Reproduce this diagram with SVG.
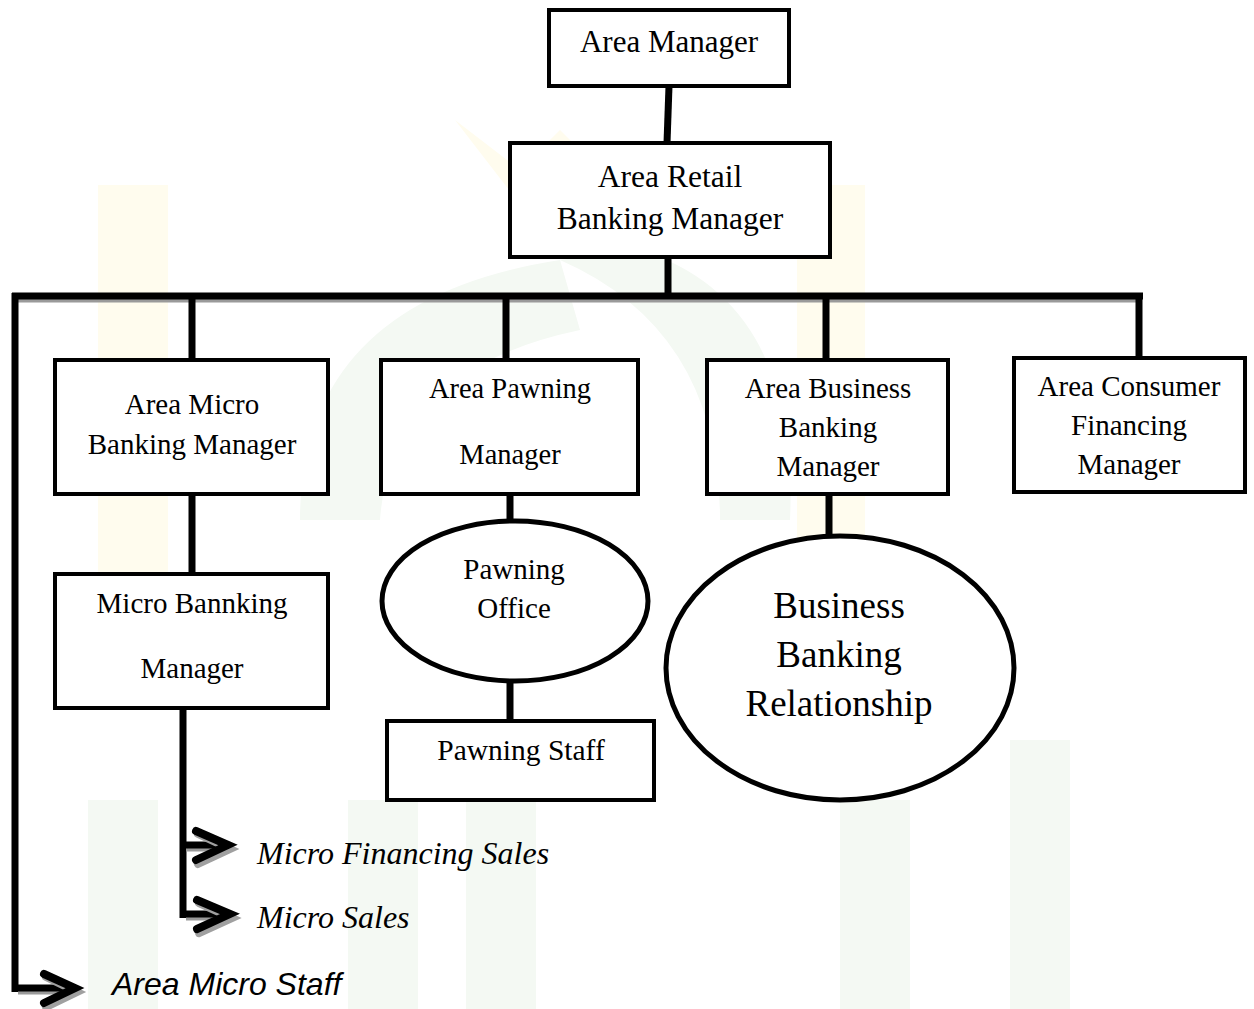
<svg xmlns="http://www.w3.org/2000/svg" width="1254" height="1009" viewBox="0 0 1254 1009">
<style>
.box{fill:#fff;stroke:#000;stroke-width:4}
.ell{fill:#fff;stroke:#000;stroke-width:5}
.t{font-family:"Liberation Serif","Times New Roman",serif;fill:#000;text-anchor:middle}
.ti{font-family:"Liberation Serif","Times New Roman",serif;font-style:italic;fill:#000}
.ts{font-family:"Liberation Sans",Arial,sans-serif;font-style:italic;fill:#000}
.ln{fill:none;stroke:#000;stroke-width:7}
.sh{fill:none;stroke:#9a9a9a;stroke-width:5}
.arr{fill:none;stroke:#000;stroke-width:8;stroke-linecap:round;stroke-linejoin:miter}
.arrs{fill:none;stroke:#a0a0a0;stroke-width:8;stroke-linecap:round}
.wy{fill:#fffcee}
.wg{fill:#f4f9f3}
</style>
<rect width="1254" height="1009" fill="#fff"/>
<g id="watermark">
<rect class="wy" x="98" y="185" width="70" height="450"/>
<rect class="wy" x="797" y="185" width="68" height="450"/>
<path class="wy" d="M455 120 L520 170 L560 130 L600 170 L540 230 Z"/>
<path class="wg" d="M300 520 Q300 300 560 260 L580 330 Q390 370 380 520 Z"/>
<path class="wg" d="M720 520 Q720 330 560 260 L640 250 Q800 300 790 520 Z"/>
<rect class="wg" x="88" y="800" width="70" height="209"/>
<rect class="wg" x="348" y="800" width="70" height="209"/>
<rect class="wg" x="466" y="800" width="70" height="209"/>
<rect class="wg" x="840" y="800" width="70" height="209"/>
<rect class="wg" x="1010" y="740" width="60" height="269"/>
</g>
<g id="connectors">
<line class="ln" x1="669" y1="86" x2="667" y2="143"/>
<line class="ln" x1="668" y1="257" x2="668" y2="296"/>
<line class="sh" x1="15" y1="300" x2="1140" y2="300"/>
<line class="ln" x1="12" y1="296" x2="1143" y2="296"/>
<line class="ln" x1="15" y1="293" x2="15" y2="992"/>
<line class="ln" x1="192" y1="296" x2="192" y2="360"/>
<line class="ln" x1="506" y1="296" x2="506" y2="360"/>
<line class="ln" x1="826" y1="296" x2="826" y2="360"/>
<line class="ln" x1="1139" y1="296" x2="1139" y2="358"/>
<line class="ln" x1="192" y1="494" x2="192" y2="574"/>
<line class="ln" x1="510" y1="494" x2="510" y2="521"/>
<line class="ln" x1="510" y1="681" x2="510" y2="721"/>
<line class="ln" x1="829" y1="494" x2="829" y2="536"/>
<line class="ln" x1="183" y1="708" x2="183" y2="918"/>
<line class="sh" x1="186" y1="849" x2="222" y2="849"/>
<line class="ln" x1="183" y1="845" x2="222" y2="845"/>
<polyline class="arrs" points="198,834 230,849 198,864"/>
<polyline class="arr" points="196,831 228,845 196,860"/>
<line class="sh" x1="186" y1="918" x2="224" y2="918"/>
<line class="ln" x1="180" y1="914" x2="224" y2="914"/>
<polyline class="arrs" points="199,903 232,918 199,933"/>
<polyline class="arr" points="197,900 230,914 197,929"/>
<line class="sh" x1="18" y1="992" x2="68" y2="992"/>
<line class="ln" x1="12" y1="988" x2="68" y2="988"/>
<polyline class="arrs" points="46,977 77,992 46,1007"/>
<polyline class="arr" points="44,974 75,988 44,1003"/>
</g>
<g id="area-manager">
<rect class="box" x="549" y="10" width="240" height="76"/>
<text class="t" x="669" y="52" font-size="31">Area Manager</text>
</g>
<g id="area-retail-banking-manager">
<rect class="box" x="510" y="143" width="320" height="114"/>
<text class="t" x="670" y="187" font-size="31.5">Area Retail</text>
<text class="t" x="670" y="229" font-size="31.5">Banking Manager</text>
</g>
<g id="area-micro-banking-manager">
<rect class="box" x="55" y="360" width="273" height="134"/>
<text class="t" x="192" y="414" font-size="29">Area Micro</text>
<text class="t" x="192" y="454" font-size="29">Banking Manager</text>
</g>
<g id="area-pawning-manager">
<rect class="box" x="381" y="360" width="257" height="134"/>
<text class="t" x="510" y="398" font-size="28.5">Area Pawning</text>
<text class="t" x="510" y="464" font-size="28.5">Manager</text>
</g>
<g id="area-business-banking-manager">
<rect class="box" x="707" y="360" width="241" height="134"/>
<text class="t" x="828" y="398" font-size="29">Area Business</text>
<text class="t" x="828" y="437" font-size="29">Banking</text>
<text class="t" x="828" y="476" font-size="29">Manager</text>
</g>
<g id="area-consumer-financing-manager">
<rect class="box" x="1014" y="358" width="231" height="134"/>
<text class="t" x="1129" y="396" font-size="29">Area Consumer</text>
<text class="t" x="1129" y="435" font-size="29">Financing</text>
<text class="t" x="1129" y="474" font-size="29">Manager</text>
</g>
<g id="micro-bannking-manager">
<rect class="box" x="55" y="574" width="273" height="134"/>
<text class="t" x="192" y="613" font-size="29">Micro Bannking</text>
<text class="t" x="192" y="678" font-size="29">Manager</text>
</g>
<g id="pawning-office">
<ellipse class="ell" cx="515" cy="601" rx="133" ry="80"/>
<text class="t" x="514" y="579" font-size="29">Pawning</text>
<text class="t" x="514" y="618" font-size="29">Office</text>
</g>
<g id="pawning-staff">
<rect class="box" x="387" y="721" width="267" height="79"/>
<text class="t" x="521" y="760" font-size="29.5">Pawning Staff</text>
</g>
<g id="business-banking-relationship">
<ellipse class="ell" cx="840" cy="668" rx="174" ry="132"/>
<text class="t" x="839" y="618" font-size="37">Business</text>
<text class="t" x="839" y="667" font-size="37">Banking</text>
<text class="t" x="839" y="716" font-size="37">Relationship</text>
</g>
<g id="micro-financing-sales">
<text class="ti" x="257" y="864" font-size="32">Micro Financing Sales</text>
</g>
<g id="micro-sales">
<text class="ti" x="257" y="928" font-size="32">Micro Sales</text>
</g>
<g id="area-micro-staff">
<text class="ts" x="112" y="995" font-size="32">Area Micro Staff</text>
</g>
</svg>
